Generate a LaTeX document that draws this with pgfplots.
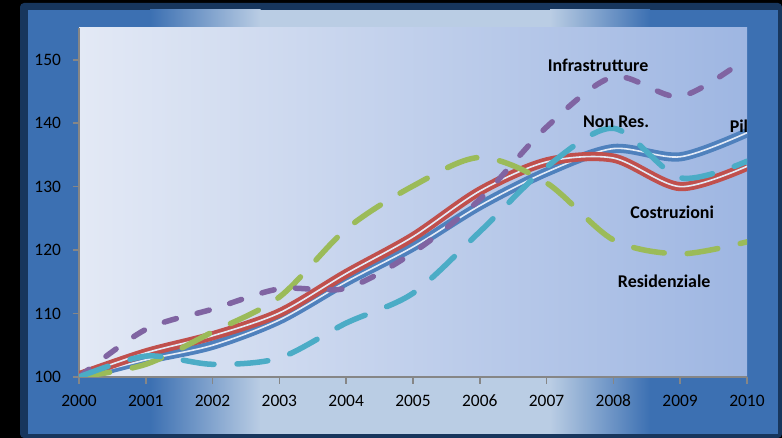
\documentclass[border=0pt]{standalone}
\usepackage{pgfplots}
\pgfplotsset{compat=1.18}
\usepackage{fontspec}
\setmainfont{Carlito}

% colori
\definecolor{cornice}{RGB}{23,54,93}
\definecolor{pblue}{RGB}{60,112,178}
\definecolor{plight}{RGB}{186,205,228}
\definecolor{bgL}{RGB}{227,233,245}
\definecolor{bgR}{RGB}{158,182,226}
\definecolor{axgray}{RGB}{134,134,134}
\definecolor{gapc}{RGB}{228,235,247}
\definecolor{pilc}{RGB}{79,129,189}
\definecolor{cosc}{RGB}{192,80,77}
\definecolor{resc}{RGB}{155,187,89}
\definecolor{infc}{RGB}{128,100,162}
\definecolor{nrc}{RGB}{75,172,198}

\tikzset{
    dashed line/.style={line width=5.5bp, line cap=round, smooth},
    double line/.style={line width=3.8bp, double=gapc, double distance=1.6bp, smooth},
    lbl/.style={font=\fontsize{18}{20}\selectfont\bfseries, text=black},
}

\begin{document}
\begin{tikzpicture}
% sfondo
\fill[black] (0,0) rectangle (782bp,438bp);
\fill[cornice, rounded corners=4bp] (20bp,0) rectangle (782bp,435bp);
\fill[pblue] (28bp,4bp) rectangle (778bp,428bp);
\shade[left color=pblue, right color=plight] (150bp,4bp) rectangle (260.5bp,428bp);
\fill[plight] (260bp,4bp) rectangle (550.5bp,428bp);
\shade[left color=plight, right color=pblue] (550bp,4bp) rectangle (650bp,428bp);

\begin{axis}[
    at={(79bp,61bp)}, anchor=south west,
    scale only axis,
    width=668bp, height=349bp,
    xmin=2000, xmax=2010,
    ymin=100, ymax=155,
    axis lines=left,
    axis line style={-, draw=axgray, line width=2bp},
    xtick={2000,...,2010},
    ytick={100,110,...,150},
    tick align=outside,
    major tick length=6.5bp,
    tick style={draw=axgray, line width=1.6bp},
    xticklabel style={/pgf/number format/1000 sep={}, yshift=-8bp},
    yticklabel style={xshift=-8bp},
    /pgf/number format/assume math mode=true,
    tick label style={font=\fontsize{17.5}{20}\selectfont, text=black},
    axis background/.style={left color=bgL, right color=bgR},
]
% Pil
\addplot[double line, draw=pilc] coordinates {
(2000,100) (2001,102.7) (2002,105.0) (2003,109.0) (2004,115.0) (2005,120.5)
(2006,127.0) (2007,132.3) (2008,136.0) (2009,134.7) (2010,138.5)};
% Costruzioni
\addplot[double line, draw=cosc] coordinates {
(2000,100.2) (2001,103.8) (2002,106.5) (2003,110.1) (2004,116.3) (2005,122.1)
(2006,129.3) (2007,133.9) (2008,134.5) (2009,130.0) (2010,133.2)};
% Residenziale
\addplot[dashed line, draw=resc, dash pattern=on 31bp off 23bp] coordinates {
(2000,100) (2001,102.0) (2002,107.1) (2003,112.6) (2004,123.3) (2005,130.1)
(2006,134.6) (2007,130.6) (2008,121.6) (2009,119.4) (2010,121.3)};
% Infrastrutture
\addplot[dashed line, draw=infc, dash pattern=on 12.5bp off 21.5bp] coordinates {
(2000,100) (2001,107.5) (2002,110.7) (2003,113.9) (2004,114.0) (2005,119.6)
(2006,128.0) (2007,139.4) (2008,147.3) (2009,144.2) (2010,150.3)};
% Non Res.
\addplot[dashed line, draw=nrc, dash pattern=on 31bp off 23bp] coordinates {
(2000,100) (2001,103.3) (2002,102.0) (2003,103.0) (2004,108.5) (2005,113.2)
(2006,122.9) (2007,133.1) (2008,139.2) (2009,131.4) (2010,134.0)};

\node[lbl] at (axis cs:2007.77,149.05) {Infrastrutture};
\node[lbl] at (axis cs:2008.04,140.2) {Non Res.};
\node[lbl, anchor=east, inner sep=0pt] at (axis cs:2010.02,139.6) {Pil};
\node[lbl] at (axis cs:2008.88,126.0) {Costruzioni};
\node[lbl] at (axis cs:2008.76,115.1) {Residenziale};
\end{axis}
\pgfresetboundingbox
\useasboundingbox (0,0) rectangle (782bp,438bp);
\end{tikzpicture}
\end{document}
